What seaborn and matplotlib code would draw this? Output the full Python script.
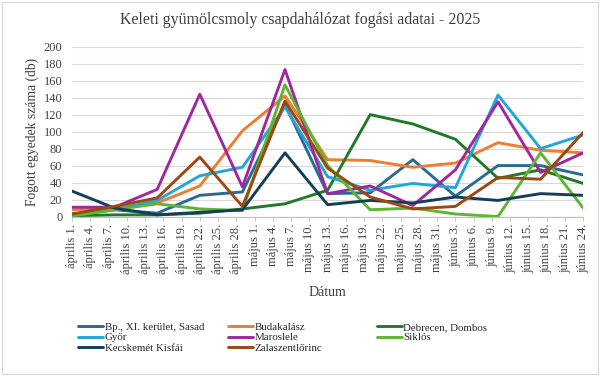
import numpy as np
import pandas as pd
import matplotlib
matplotlib.use("Agg")
import matplotlib.pyplot as plt
import seaborn as sns
from matplotlib.patches import Rectangle
from matplotlib.lines import Line2D

sns.set_theme(style="white")
plt.rcParams['font.family'] = ['Liberation Serif', 'DejaVu Serif']

# Sampling dates (weekly trap checks)
dates = pd.to_datetime([
    "2025-04-01", "2025-04-08", "2025-04-15", "2025-04-22", "2025-04-29",
    "2025-05-06", "2025-05-13", "2025-05-20", "2025-05-27",
    "2025-06-03", "2025-06-10", "2025-06-17", "2025-06-24",
])

# Catches per site
bp_sasad = [3, 8, 4, 25, 29, 132, 27, 28, 67, 24, 60, 60, 49]
budakalasz = [8, 10, 16, 36, 101, 142, 67, 66, 58, 63, 87, 78, 75]
debrecen = [1, 2, 2, 4, 9, 15, 31, 120, 109, 91, 45, 55, 39]
gyor = [1, 8, 19, 48, 58, 129, 47, 31, 39, 34, 143, 80, 96]
maroslele = [11, 11, 32, 144, 35, 173, 27, 36, 13, 55, 135, 52, 75]
siklos = [1, 8, 15, 9, 7, 155, 60, 8, 10, 3, 0, 75, 10]
kecskemet = [30, 10, 2, 5, 8, 75, 14, 19, 16, 23, 19, 27, 25]
zalaszentlorinc = [3, 12, 22, 70, 12, 136, 57, 23, 9, 12, 46, 44, 99]

sites = ["Bp., XI. kerület, Sasad", "Budakalász", "Debrecen, Dombos", "Győr",
         "Maroslele", "Siklós", "Kecskemét Kisfái", "Zalaszentlőrinc"]
series = [bp_sasad, budakalasz, debrecen, gyor, maroslele, siklos, kecskemet, zalaszentlorinc]
colors = ["#2a6a93", "#ed7d31", "#217a2a", "#22a6da", "#a1289c", "#5db532", "#153f58", "#9b4811"]

y_ticks = list(range(0, 201, 20))
month_hu = {4: "április", 5: "május", 6: "június"}

# long format
df = pd.DataFrame({
    "Dátum": np.tile(dates, len(sites)),
    "Telep": np.repeat(sites, len(dates)),
    "db": np.concatenate(series),
})

fig = plt.figure(figsize=(6, 3.76), dpi=100)
ax = fig.add_axes([0.12, 0.424, 0.852, 0.452])

sns.lineplot(data=df, x="Dátum", y="db", hue="Telep", hue_order=sites,
             palette=colors, linewidth=2.1, legend=False, ax=ax)

ax.set_xlim(dates[0], dates[-1])
ax.set_ylim(0, 200)
ax.set_yticks(y_ticks)
ax.set_yticklabels([str(v) for v in y_ticks], fontsize=9, color="#404040")
ax.grid(axis="y", color="#d9d9d9", linewidth=0.8)
ax.grid(axis="x", visible=False)
ax.set_axisbelow(True)

xt = pd.date_range(dates[0], dates[-1], freq="3D")
ax.set_xticks(xt)
ax.set_xticklabels([f"{month_hu[d.month]} {d.day}." for d in xt],
                   rotation=90, fontsize=9, color="#404040")
ax.tick_params(axis="x", length=3, width=0.6, color="#bfbfbf", pad=2, bottom=True)
ax.tick_params(axis="y", length=0, pad=7)

for s in ["top", "right", "left"]:
    ax.spines[s].set_visible(False)
ax.spines["bottom"].set_color("#bfbfbf")
ax.spines["bottom"].set_linewidth(0.8)

ax.set_xlabel("Dátum", fontsize=10, color="#404040")
ax.xaxis.set_label_coords(0.5, -0.41)
ax.set_ylabel("Fogott egyedek száma (db)", fontsize=9.8, color="#404040")
ax.yaxis.set_label_coords(-0.064, 0.5)

fig.suptitle("Keleti gyümölcsmoly csapdahálózat fogási adatai - 2025",
             fontsize=11.4, color="#404040", y=0.968)

# legend: three columns placed by hand
cols = [[0, 3, 6], [1, 4, 7], [2, 5]]
col_x = [0.13, 0.38, 0.628]
for cx, idx in zip(col_x, cols):
    handles = [Line2D([], [], color=colors[i], lw=2.1) for i in idx]
    fig.legend(handles, [sites[i] for i in idx], loc="upper left",
               bbox_to_anchor=(cx, 0.143), frameon=False, fontsize=7.8,
               handlelength=2.3, handletextpad=0.15, labelspacing=0.1,
               borderaxespad=0, borderpad=0)

fig.patches.append(Rectangle((0.004, 0.006), 0.992, 0.988, transform=fig.transFigure,
                             fill=False, edgecolor="#d9d9d9", linewidth=0.8))

fig.savefig("out.png", dpi=100)
